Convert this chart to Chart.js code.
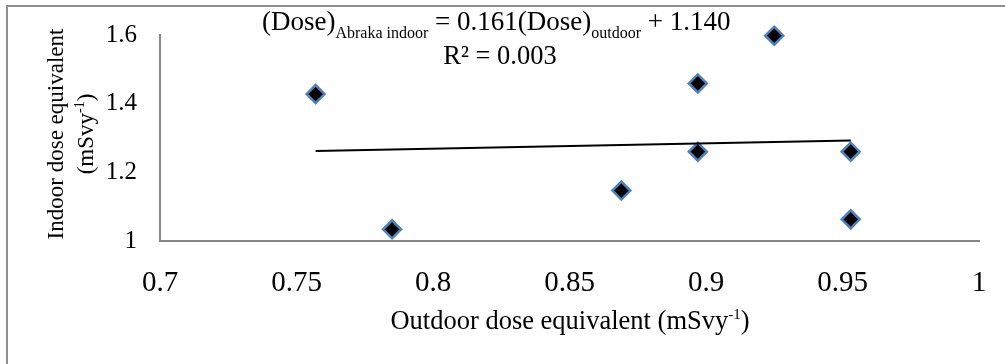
<!DOCTYPE html>
<html>
<head>
<meta charset="utf-8">
<script src="https://cdn.jsdelivr.net/npm/chart.js@4.4.1/dist/chart.umd.min.js"></script>
<style>
  html, body { margin: 0; padding: 0; background: #fff; }
  #wrap { position: relative; width: 1005px; height: 364px; }
  #frame { position: absolute; left: 6px; top: 5px; right: 0; bottom: 0;
           border-top: 2px solid #8f8f8f; border-left: 2px solid #8f8f8f; pointer-events: none; }
</style>
</head>
<body>
<div id="wrap">
  <canvas id="chart" width="1005" height="364"></canvas>
  <div id="frame"></div>
</div>
<script>
// ---- data ----
const outdoorDose = [0.757, 0.785, 0.869, 0.897, 0.897, 0.925, 0.953, 0.953];
const indoorDose  = [1.428, 1.034, 1.147, 1.459, 1.260, 1.598, 1.260, 1.063];

// trend line end points (as drawn)
const trendX = [0.757, 0.953];
const trendY = [1.262, 1.293];

const xTickValues = [0.7, 0.75, 0.8, 0.85, 0.9, 0.95, 1];
const xTickLabels = ['0.7', '0.75', '0.8', '0.85', '0.9', '0.95', '1'];
const yTickValues = [1, 1.2, 1.4, 1.6];
const yTickLabels = ['1', '1.2', '1.4', '1.6'];

const SERIF = '"Liberation Serif", "Times New Roman", serif';

// draw a row of text runs (normal / sub / sup) left to right
function drawRuns(ctx, x, y, runs, align) {
  ctx.save();
  ctx.textAlign = 'left';
  ctx.textBaseline = 'alphabetic';
  let total = 0;
  for (const r of runs) {
    ctx.font = `${r.size}px ${SERIF}`;
    r.w = ctx.measureText(r.t).width;
    total += r.w;
  }
  let cx = align === 'center' ? x - total / 2 : x;
  for (const r of runs) {
    ctx.font = `${r.size}px ${SERIF}`;
    ctx.fillText(r.t, cx, y + (r.dy || 0));
    cx += r.w;
  }
  ctx.restore();
}

const textPlugin = {
  id: 'texts',
  afterDraw(chart) {
    const ctx = chart.ctx;
    ctx.fillStyle = '#000';

    // equation + R²
    drawRuns(ctx, 262, 30, [
      { t: '(Dose)', size: 27 },
      { t: 'Abraka indoor', size: 16, dy: 8 },
      { t: ' = 0.161(Dose)', size: 27 },
      { t: 'outdoor', size: 16, dy: 8 },
      { t: ' + 1.140', size: 27 }
    ]);
    drawRuns(ctx, 500, 64, [
      { t: 'R² = 0.003', size: 26.5 }
    ], 'center');

    // x axis title
    drawRuns(ctx, 570, 329, [
      { t: 'Outdoor dose equivalent (mSvy', size: 26.5 },
      { t: '-1', size: 15, dy: -10 },
      { t: ')', size: 26.5 }
    ], 'center');

    // y axis title (rotated, two lines)
    ctx.save();
    ctx.translate(0, 134);
    ctx.rotate(-Math.PI / 2);
    drawRuns(ctx, 0, 63, [{ t: 'Indoor dose equivalent', size: 23 }], 'center');
    drawRuns(ctx, 0, 93, [
      { t: '(mSvy', size: 23 },
      { t: '-1', size: 14, dy: -9 },
      { t: ')', size: 23 }
    ], 'center');
    ctx.restore();
  }
};

new Chart(document.getElementById('chart'), {
  type: 'scatter',
  data: {
    datasets: [
      {
        label: 'trend',
        data: trendX.map((x, i) => ({ x, y: trendY[i] })),
        showLine: true,
        borderColor: '#000',
        borderWidth: 2,
        pointRadius: 0,
        clip: false
      },
      {
        label: 'dose',
        data: outdoorDose.map((x, i) => ({ x, y: indoorDose[i] })),
        pointStyle: 'rectRot',
        pointRadius: 9,
        pointBackgroundColor: '#000',
        pointBorderColor: '#4f81bd',
        pointBorderWidth: 2.5,
        clip: false
      }
    ]
  },
  options: {
    responsive: false,
    animation: false,
    devicePixelRatio: 1,
    layout: { padding: { top: 35, right: 26, left: 0, bottom: 0 } },
    plugins: {
      legend: { display: false },
      tooltip: { enabled: false }
    },
    scales: {
      x: {
        type: 'linear',
        position: 'bottom',
        min: 0.7,
        max: 1,
        afterBuildTicks: (s) => { s.ticks = xTickValues.map(v => ({ value: v })); },
        afterFit: (s) => { s.height = 123; s.paddingLeft = 0; s.paddingRight = 0; },
        grid: { display: false, drawTicks: false, tickLength: 0 },
        border: { display: true, color: '#868686', width: 2 },
        ticks: {
          color: '#000',
          padding: 25,
          maxRotation: 0,
          font: { family: SERIF, size: 29 },
          callback: (v, i) => xTickLabels[i]
        }
      },
      y: {
        type: 'linear',
        min: 1,
        max: 1.6,
        afterBuildTicks: (s) => { s.ticks = yTickValues.map(v => ({ value: v })); },
        afterFit: (s) => { s.width = 160; s.paddingTop = 0; s.paddingBottom = 0; },
        grid: { display: false, drawTicks: false, tickLength: 0 },
        border: { display: true, color: '#868686', width: 2 },
        ticks: {
          color: '#000',
          padding: 23,
          font: { family: SERIF, size: 25 },
          callback: (v, i) => yTickLabels[i]
        }
      }
    }
  },
  plugins: [textPlugin]
});
</script>
</body>
</html>
